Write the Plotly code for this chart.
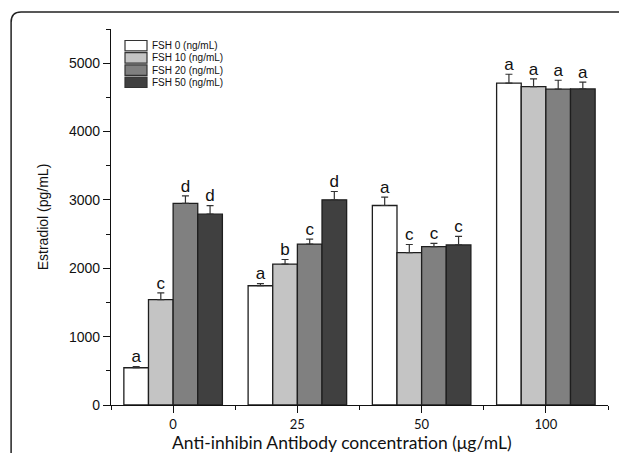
import plotly.graph_objects as go

categories = ["0", "25", "50", "100"]
series_names = ["FSH 0 (ng/mL)", "FSH 10 (ng/mL)", "FSH 20 (ng/mL)", "FSH 50 (ng/mL)"]
fsh0 = [545, 1744, 2918, 4708]
fsh10 = [1540, 2061, 2228, 4658]
fsh20 = [2950, 2354, 2318, 4620]
fsh50 = [2792, 3001, 2342, 4624]
fsh0_err = [15, 30, 123, 130]
fsh10_err = [100, 67, 120, 112]
fsh20_err = [110, 73, 45, 130]
fsh50_err = [125, 122, 125, 100]
fsh0_lbl = ["a", "a", "a", "a"]
fsh10_lbl = ["c", "b", "c", "a"]
fsh20_lbl = ["d", "c", "c", "a"]
fsh50_lbl = ["d", "d", "c", "a"]

values = [fsh0, fsh10, fsh20, fsh50]
errors = [fsh0_err, fsh10_err, fsh20_err, fsh50_err]
labels = [fsh0_lbl, fsh10_lbl, fsh20_lbl, fsh50_lbl]
colors = ["#ffffff", "#c4c4c4", "#808080", "#404040"]

xpos = list(range(len(categories)))

fig = go.Figure()
for i, name in enumerate(series_names):
    fig.add_trace(go.Bar(
        x=xpos, y=values[i], name=name, offsetgroup=str(i), showlegend=False,
        marker=dict(color=colors[i], line=dict(color="#1e1e1e", width=1.3)),
        error_y=dict(type="data", symmetric=False, array=errors[i],
                     arrayminus=[0] * len(errors[i]), color="#333333",
                     thickness=1.2, width=3.5),
    ))
for i, name in enumerate(series_names):
    fig.add_trace(go.Scatter(
        x=xpos, y=[v + e for v, e in zip(values[i], errors[i])],
        mode="text", text=labels[i], textposition="top center",
        textfont=dict(family="Liberation Sans", size=17, color="#111111"),
        offsetgroup=str(i), showlegend=False, hoverinfo="skip",
    ))

fig.update_layout(
    width=619, height=453,
    margin=dict(l=111, r=11, t=29, b=48),
    paper_bgcolor="white", plot_bgcolor="white",
    barmode="group", bargap=0.207, bargroupgap=0,
    scattermode="group", scattergap=0.207,
    font=dict(family="Liberation Sans", color="#111111"),
    showlegend=False,
    xaxis=dict(
        range=[-0.5, 3.5], tickvals=xpos, ticktext=categories,
        showline=True, linecolor="#111111", linewidth=1.3,
        ticks="outside", ticklen=7, tickwidth=1.3, tickcolor="#111111",
        tickfont=dict(family="Lato", size=13, color="#111111"),
        showgrid=False, zeroline=False,
        minor=dict(tickvals=[-0.5, 0.5, 1.5, 2.5, 3.5], ticks="outside",
                   ticklen=4, tickwidth=1.3, tickcolor="#111111", showgrid=False),
    ),
    yaxis=dict(
        range=[0, 5500], dtick=1000, tick0=0,
        showline=True, linecolor="#111111", linewidth=1.3,
        ticks="outside", ticklen=7, tickwidth=1.3, tickcolor="#111111",
        tickfont=dict(family="Liberation Sans", size=14, color="#111111"),
        showgrid=False, zeroline=False,
        title=dict(text="Estradiol (pg/mL)",
                   font=dict(family="Liberation Sans", size=14), standoff=16),
        minor=dict(dtick=500, tick0=0, ticks="outside", ticklen=4,
                   tickwidth=1.3, tickcolor="#111111", showgrid=False),
    ),
)

# legend (swatches + labels) drawn in the top-left of the plot area
plot_w, plot_h = 497.0, 376.0
sw_x0, sw_x1 = 14 / plot_w, 36 / plot_w
row_top = (405 - 45.7) / plot_h
row_step = 12.2 / plot_h
half_h = 5.2 / plot_h
for i, name in enumerate(series_names):
    yc = row_top - i * row_step
    fig.add_shape(type="rect", xref="paper", yref="paper",
                  x0=sw_x0, x1=sw_x1, y0=yc - half_h, y1=yc + half_h,
                  fillcolor=colors[i], line=dict(color="#333333", width=1.2))
    fig.add_annotation(text=name, xref="paper", yref="paper",
                       x=39 / plot_w, y=yc, xanchor="left", yanchor="middle",
                       showarrow=False,
                       font=dict(family="Liberation Sans", size=10, color="#111111"))

fig.add_annotation(
    text="Anti-inhibin Antibody concentration (μg/mL)",
    xref="paper", yref="paper", x=0.465, y=-0.101,
    xanchor="center", yanchor="middle", showarrow=False,
    font=dict(family="Lato", size=17.5, color="#111111"),
)

# rounded frame around the figure panel
fx0, fy0 = -0.201, 1.045
rx, ry = 0.02, 0.027
fig.add_shape(
    type="path", xref="paper", yref="paper",
    path=f"M {fx0},-0.3 L {fx0},{fy0 - ry} Q {fx0},{fy0} {fx0 + rx},{fy0} L 1.1,{fy0}",
    line=dict(color="#222222", width=1.5),
)

fig.write_html("out.html", config={"displayModeBar": False},
               post_script="document.body.style.margin='0';document.body.style.overflow='hidden';")
